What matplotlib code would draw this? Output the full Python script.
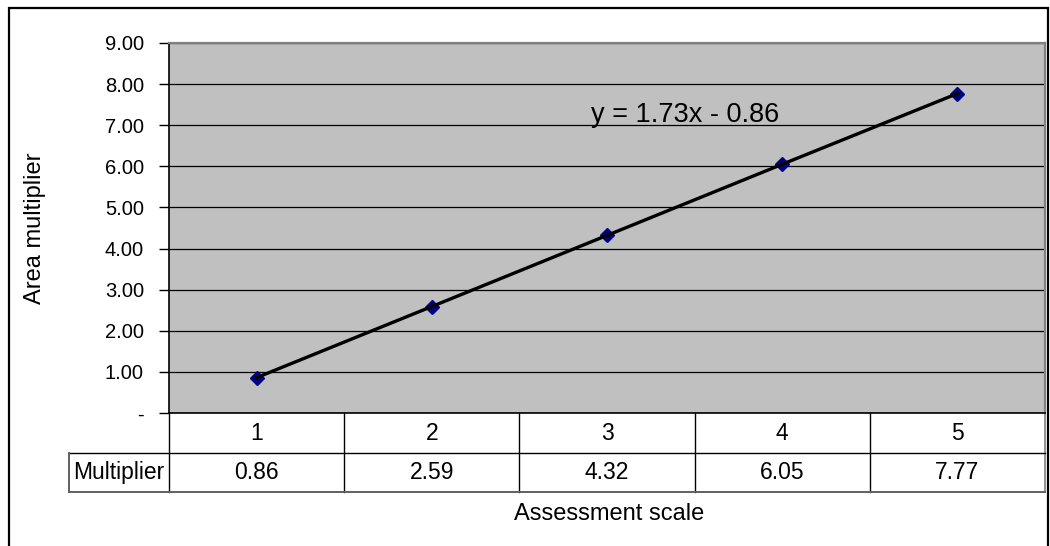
import numpy as np
import matplotlib
matplotlib.use("Agg")
import matplotlib.pyplot as plt
from matplotlib.patches import Rectangle

# data
scale = [1, 2, 3, 4, 5]
multiplier = [0.86, 2.59, 4.32, 6.05, 7.77]
row_label = "Multiplier"
equation = "y = 1.73x - 0.86"
y_ticks = [0, 1, 2, 3, 4, 5, 6, 7, 8, 9]

plt.rcParams['font.family'] = ['Liberation Sans', 'DejaVu Sans']

W, H = 1050, 546
fig = plt.figure(figsize=(W/100, H/100), dpi=100)
fig.patch.set_facecolor('white')

# plot area in pixels
left, right, top, bottom = 169, 1045, 43, 413
ax = fig.add_axes([left/W, (H-bottom)/H, (right-left)/W, (bottom-top)/H])
ax.set_facecolor('#C0C0C0')

n = len(scale)
xpos = np.arange(n) + 0.5
ax.set_xlim(0, n)
ax.set_ylim(y_ticks[0], y_ticks[-1])

ax.set_yticks(y_ticks)
ax.set_yticklabels(['-' if v == 0 else '{:.2f}'.format(v) for v in y_ticks], fontsize=14.5)
ax.tick_params(axis='y', direction='out', length=7, width=1, color='black', pad=11)
ax.set_xticks([])
ax.yaxis.grid(True, color='black', linewidth=0.9)
ax.set_axisbelow(True)

for s in ['left', 'bottom']:
    ax.spines[s].set_color('black')
    ax.spines[s].set_linewidth(1.2)
for s in ['top', 'right']:
    ax.spines[s].set_color('#808080')
    ax.spines[s].set_linewidth(1.6)

# markers first, trend line drawn over them
ax.plot(xpos, multiplier, linestyle='none', marker='D', markersize=7,
        markerfacecolor='#000080', markeredgecolor='#000080', zorder=3)
ax.plot(xpos, multiplier, color='black', linewidth=2.4, zorder=4)

ax.text(2.41, 7.25, equation, fontsize=19.5, ha='left', va='center')

# data table under the axis
ah = bottom - top
r1 = -40/ah
r2 = -79/ah
lab_left = (69 - left) / (right - left) * n
tr = ax.get_xaxis_transform()
kw = dict(transform=tr, clip_on=False, color='black', linewidth=1)
for k in range(n + 1):
    c = '#808080' if k == n else 'black'
    ax.plot([k, k], [0, r2], transform=tr, clip_on=False, color=c, linewidth=1.2 if k == n else 1)
ax.plot([lab_left, n], [r1, r1], **kw)
ax.plot([lab_left, n], [r2, r2], transform=tr, clip_on=False, color='#606060', linewidth=1.4)
ax.plot([lab_left, lab_left], [r1, r2], transform=tr, clip_on=False, color='#606060', linewidth=1.4)
for x, s, v in zip(xpos, scale, multiplier):
    ax.text(x, r1/2, str(s), transform=tr, ha='center', va='center', fontsize=16.5)
    ax.text(x, (r1+r2)/2, '{:.2f}'.format(v), transform=tr, ha='center', va='center', fontsize=16.5)
ax.text(lab_left/2, (r1+r2)/2, row_label, transform=tr, ha='center', va='center', fontsize=16.5)

fig.text(609/W, 1 - 514/H, "Assessment scale", ha='center', va='center', fontsize=17)
fig.text(35/W, 1 - 228/H, "Area multiplier", ha='center', va='center', rotation=90, fontsize=17)

# chart border
fig.patches.append(Rectangle((9/W, -0.05), (1048-9)/W, (H-8)/H + 0.05, transform=fig.transFigure,
                             fill=False, edgecolor='black', linewidth=1.6))

fig.savefig("out.png", dpi=100)
